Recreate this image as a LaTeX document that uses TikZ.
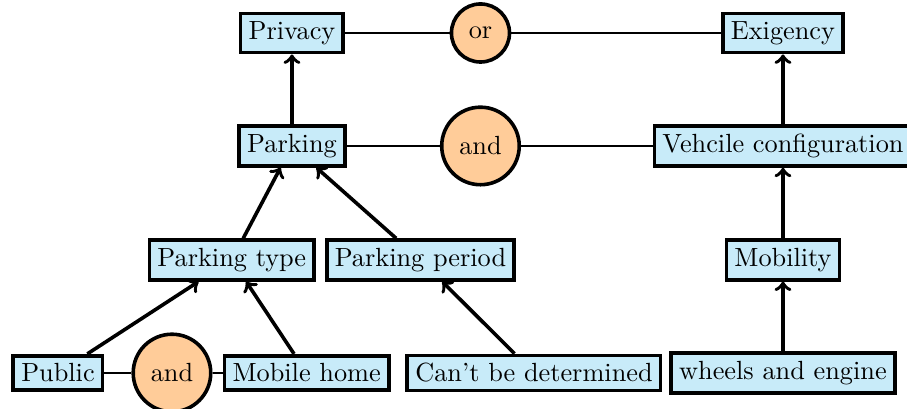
\documentclass[tikz,border=0pt]{standalone}
\usepackage{xcolor}
\usepackage{tikz}
\definecolor{boxcolor}{HTML}{C8EBF9}
\definecolor{gatecolor}{HTML}{FFCC99}
\tikzset{
  attr/.style={draw, rectangle, line width=1.5pt, fill=boxcolor},
  gate/.style={draw, circle, line width=1.5pt, fill=gatecolor, inner sep=4.8pt},
  link/.style={line width=1pt},
  dep/.style={->, line width=1.5pt}
}

\begin{document}
\begin{tikzpicture}[every node/.style={font=\fontsize{10.95pt}{13.6pt}\selectfont}]%
\useasboundingbox (0,0) rectangle (13.28,5.988);%
% top row
\node[attr] (privacy) at (4.275, 5.505) {Privacy};%
\node[gate] (or) at (7.035, 5.505) {or};%
\node[attr] (exigency) at (11.464, 5.505) {Exigency};%
% second row
\node[attr] (parking) at (4.275, 3.851) {Parking};%
\node[gate] (and1) at (7.035, 3.851) {and};%
\node[attr] (vehicle) at (11.464, 3.851) {Vehcile configuration};%
% third row
\node[attr] (ptype) at (3.394, 2.182) {Parking type};%
\node[attr] (pperiod) at (6.157, 2.182) {Parking period};%
\node[attr] (mobility) at (11.464, 2.182) {Mobility};%
% bottom row
\node[attr] (public) at (0.849, 0.527) {Public};%
\node[gate] (and2) at (2.518, 0.527) {and};%
\node[attr] (mobile) at (4.490, 0.527) {Mobile home};%
\node[attr] (cant) at (7.818, 0.527) {Can't be determined};%
\node[attr] (wheels) at (11.464, 0.527) {wheels and engine};%
% gates
\draw[link] (privacy) -- (or) -- (exigency);%
\draw[link] (parking) -- (and1) -- (vehicle);%
\draw[link] (public) -- (and2) -- (mobile);%
% dependencies
\draw[dep] (parking) -- (privacy);%
\draw[dep] (vehicle) -- (exigency);%
\draw[dep] (ptype) -- (parking);%
\draw[dep] (pperiod) -- (parking);%
\draw[dep] (mobility) -- (vehicle);%
\draw[dep] (public) -- (ptype);%
\draw[dep] (mobile) -- (ptype);%
\draw[dep] (cant) -- (pperiod);%
\draw[dep] (wheels) -- (mobility);%
\end{tikzpicture}
\end{document}
